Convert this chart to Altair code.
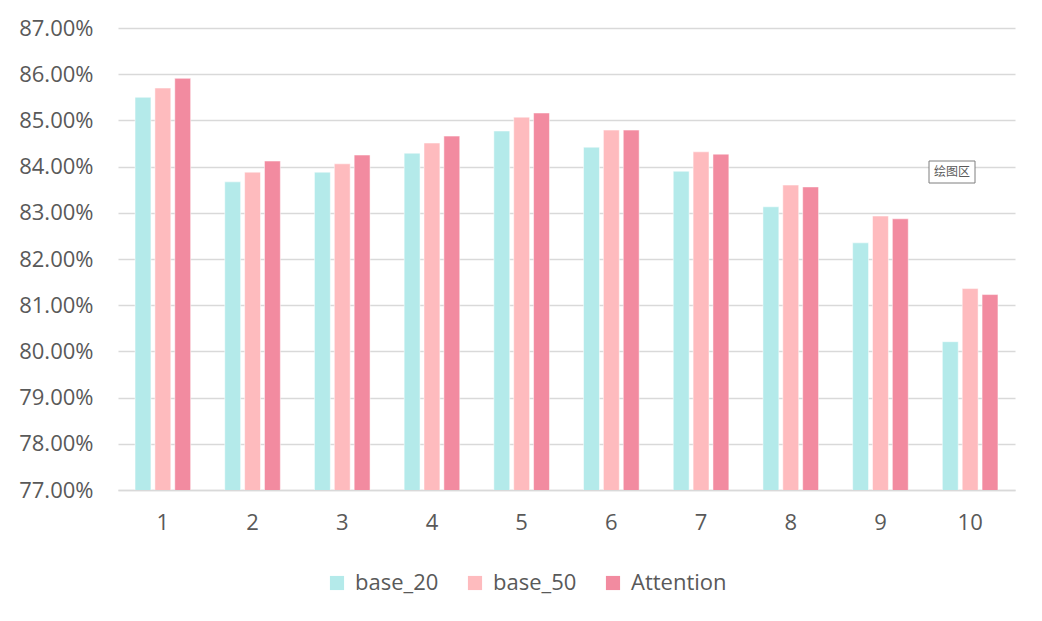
import altair as alt
import pandas as pd

groups = [str(i) for i in range(1, 11)]
series = ["base_20", "base_50", "Attention"]
base_20 = [85.50, 83.67, 83.88, 84.29, 84.77, 84.42, 83.90, 83.13, 82.35, 80.21]
base_50 = [85.70, 83.88, 84.06, 84.51, 85.07, 84.79, 84.32, 83.60, 82.93, 81.36]
attention = [85.91, 84.12, 84.25, 84.66, 85.16, 84.79, 84.27, 83.56, 82.87, 81.23]
colors = ["#B4EAEA", "#FEBBBE", "#F28BA0"]

rows = []
for name, vals in zip(series, [base_20, base_50, attention]):
    for g, v in zip(groups, vals):
        rows.append({"group": g, "series": name, "value": v / 100})
df = pd.DataFrame(rows)

FONT = "Open Sans"
GRAY = "#595959"
FS = 22

bars = alt.Chart(df).mark_bar(clip=True, stroke="white", strokeWidth=0.5).encode(
    x=alt.X("group:N", sort=groups, title=None,
            scale=alt.Scale(paddingInner=0.38, paddingOuter=0.19),
            axis=alt.Axis(labelAngle=0, labelFontSize=FS, labelColor=GRAY, labelFont=FONT,
                          ticks=False, domainColor="#d9d9d9", domainWidth=1.5,
                          labelPadding=22, grid=False)),
    xOffset=alt.XOffset("series:N", sort=series,
                        scale=alt.Scale(paddingInner=0.2, paddingOuter=0)),
    y=alt.Y("value:Q", title=None,
            scale=alt.Scale(domain=[0.77, 0.87], zero=False, nice=False),
            axis=alt.Axis(format=".2%", values=[0.77 + i * 0.01 for i in range(11)],
                          labelFontSize=FS, labelColor=GRAY, labelFont=FONT,
                          ticks=False, domain=False, labelPadding=25,
                          gridColor="#d9d9d9", gridWidth=1.5)),
    color=alt.Color("series:N", sort=series,
                    scale=alt.Scale(domain=series, range=colors),
                    legend=alt.Legend(title=None, orient="none", direction="horizontal",
                                      legendX=208, legendY=544,
                                      symbolType="square", symbolSize=200,
                                      symbolStrokeWidth=0,
                                      labelFontSize=FS, labelColor=GRAY, labelFont=FONT,
                                      columnPadding=25, labelOffset=7)),
)

note = alt.Chart(pd.DataFrame({"t": ["绘图区"]})).mark_text(
    font="Noto Sans CJK SC", fontSize=12, color="#595959", align="center", baseline="middle"
).encode(text="t:N", x=alt.value(834), y=alt.value(144))

box = alt.Chart(pd.DataFrame({"t": ["绘图区"]})).mark_rect(
    fill="white", stroke="#7f7f7f", strokeWidth=1
).encode(x=alt.value(811), x2=alt.value(857), y=alt.value(133), y2=alt.value(155))

chart = alt.layer(bars, box, note).properties(
    width=897, height=462,
    background="white",
    autosize=alt.AutoSizeParams(type="none"),
    padding={"left": 110, "top": 20, "right": 10, "bottom": 123},
).configure_view(stroke=None)

chart.save("out.html", embed_options={"renderer": "svg", "actions": False})
